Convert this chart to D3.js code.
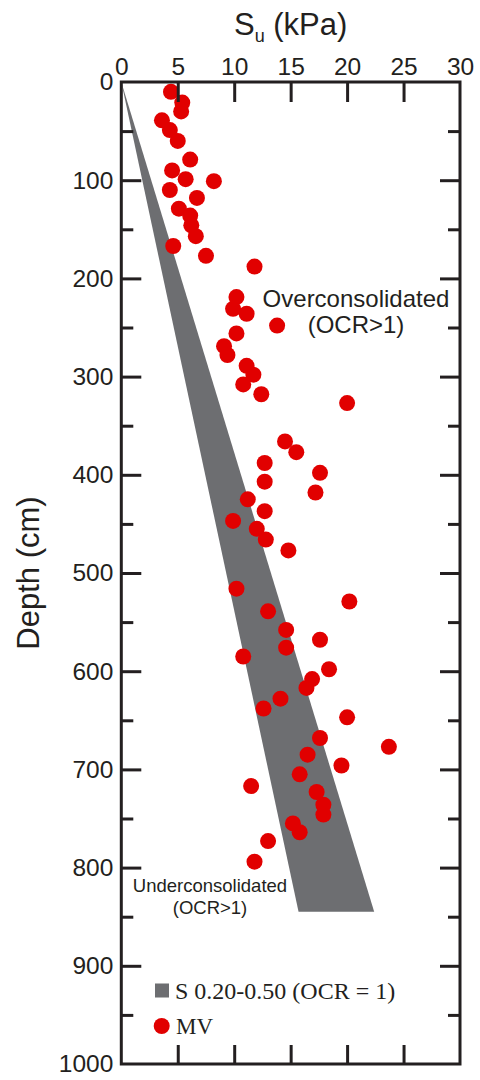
<!DOCTYPE html>
<html>
<head>
<meta charset="utf-8">
<script src="https://cdn.jsdelivr.net/npm/d3@7"></script>
<style>
  html, body { margin: 0; padding: 0; background: #fff; }
  svg { display: block; }
  text { font-family: "Liberation Sans", Arial, sans-serif; fill: #231f20; }
</style>
</head>
<body>
<svg id="chart" width="480" height="1080"></svg>
<script>
// Undrained shear strength (kPa) of MV samples versus depth (cm)
const mvStrength = [
  4.4, 5.4, 5.3, 3.6, 4.3, 5.0, 6.1, 4.5, 5.7, 8.2,
  4.3, 6.7, 5.1, 6.1, 6.2, 6.6, 4.6, 7.5, 11.8, 10.2,
  9.9, 11.1, 13.8, 10.2, 9.1, 9.4, 11.1, 11.7, 10.8, 12.4,
  20.0, 14.5, 15.5, 12.7, 17.6, 12.7, 17.2, 11.2, 12.7, 9.9,
  12.0, 12.8, 14.8, 10.2, 20.2, 13.0, 14.6, 17.6, 14.6, 10.8,
  18.4, 16.9, 16.4, 14.1, 12.6, 20.0, 17.6, 23.7, 16.5, 19.5,
  15.8, 11.5, 17.3, 17.9, 17.9, 15.2, 15.8, 13.0, 11.8
];
const mvDepth = [
  10, 21, 30, 39, 49, 60, 79, 90, 99, 101,
  110, 118, 129, 136, 146, 157, 167, 177, 188, 219,
  231, 236, 248, 256, 269, 278, 289, 298, 308, 318,
  327, 366, 377, 388, 398, 407, 418, 425, 437, 447,
  455, 466, 477, 516, 529, 539, 558, 568, 576, 585,
  598, 608, 617, 628, 638, 647, 668, 677, 685, 696,
  705, 717, 723, 736, 746, 755, 764, 773, 794
];

// Normally consolidated envelope (Su/σ'v = 0.20–0.50)
const bandDepth = [0, 845];
const bandLow = [0, 15.7];
const bandHigh = [0, 22.4];

// Axis ticks
const xTicks = [0, 5, 10, 15, 20, 25, 30];
const yTicks = [0, 100, 200, 300, 400, 500, 600, 700, 800, 900, 1000];
const yMinorTicks = [50, 150, 250, 350, 450, 550, 650, 750, 850, 950];

const ink = "#231f20";
const bandColor = "#6d6e71";
const dotColor = "#e10000";

const svg = d3.select("#chart");
const x = d3.scaleLinear().domain([0, 30]).range([121.3, 460]);
const y = d3.scaleLinear().domain([0, 1000]).range([82, 1064]);

// envelope band
const band = bandDepth.map((d, i) => ({ d, lo: bandLow[i], hi: bandHigh[i] }));
svg.append("path")
  .datum(band)
  .attr("fill", bandColor)
  .attr("d", d3.area()
    .y(p => y(p.d))
    .x0(p => x(p.lo))
    .x1(p => x(p.hi)));

// MV points
const pts = mvStrength.map((s, i) => ({ s, d: mvDepth[i] }));
svg.append("g").selectAll("circle")
  .data(pts)
  .join("circle")
  .attr("cx", p => x(p.s))
  .attr("cy", p => y(p.d))
  .attr("r", 8)
  .attr("fill", dotColor);

// axes with inward ticks
function styleAxis(g) {
  g.select(".domain").remove();
  g.selectAll(".tick line").attr("stroke", ink).attr("stroke-width", 3);
  g.selectAll(".tick text").attr("fill", ink).style("font-size", "24.5px")
    .style("font-family", '"Liberation Sans", Arial, sans-serif');
}

const plain = d3.format("d");

svg.append("g")
  .attr("transform", `translate(0,${y(0)})`)
  .call(d3.axisTop(x).tickValues(xTicks).tickSize(-20).tickPadding(7).tickFormat(plain))
  .call(styleAxis)
  .call(g => g.selectAll(".tick").filter(v => v === 0 || v === 30).select("line").remove());

svg.append("g")
  .attr("transform", `translate(0,${y(1000)})`)
  .call(d3.axisBottom(x).tickValues(xTicks.slice(1, -1)).tickSize(-19).tickFormat(""))
  .call(styleAxis);

svg.append("g")
  .attr("transform", `translate(${x(0)},0)`)
  .call(d3.axisLeft(y).tickValues(yTicks).tickSize(-20).tickPadding(8).tickFormat(plain))
  .call(styleAxis)
  .call(g => g.selectAll(".tick").filter(v => v === 0 || v === 1000).select("line").remove());

svg.append("g")
  .attr("transform", `translate(${x(0)},0)`)
  .call(d3.axisLeft(y).tickValues(yMinorTicks).tickSize(-12).tickFormat(""))
  .call(styleAxis);

svg.append("g")
  .attr("transform", `translate(${x(30)},0)`)
  .call(d3.axisRight(y).tickValues(yTicks.slice(1, -1)).tickSize(-20).tickFormat(""))
  .call(styleAxis);

svg.append("g")
  .attr("transform", `translate(${x(30)},0)`)
  .call(d3.axisRight(y).tickValues(yMinorTicks).tickSize(-12).tickFormat(""))
  .call(styleAxis);

// frame
svg.append("rect")
  .attr("x", x(0)).attr("y", y(0))
  .attr("width", x(30) - x(0)).attr("height", y(1000) - y(0))
  .attr("fill", "none").attr("stroke", ink).attr("stroke-width", 3);

// axis titles
const title = svg.append("text")
  .attr("x", (x(0) + x(30)) / 2).attr("y", 35)
  .attr("text-anchor", "middle")
  .style("font-size", "31px");
title.append("tspan").text("S");
title.append("tspan").attr("dy", 6.5).style("font-size", "18px").text("u");
title.append("tspan").attr("dy", -6.5).text(" (kPa)");

svg.append("text")
  .attr("transform", `translate(39,${(y(0) + y(1000)) / 2})rotate(-90)`)
  .attr("text-anchor", "middle")
  .style("font-size", "31px")
  .text("Depth (cm)");

// region annotations
const over = svg.append("text").attr("text-anchor", "middle").style("font-size", "24px");
over.append("tspan").attr("x", 356).attr("y", 306.5).text("Overconsolidated");
over.append("tspan").attr("x", 356).attr("y", 333).text("(OCR>1)");

const under = svg.append("text").attr("text-anchor", "middle").style("font-size", "18.5px");
under.append("tspan").attr("x", 210).attr("y", 891.5).text("Underconsolidated");
under.append("tspan").attr("x", 210).attr("y", 914).text("(OCR>1)");

// legend
const legend = svg.append("g");
legend.append("rect")
  .attr("x", 155).attr("y", 983.5).attr("width", 14).attr("height", 14)
  .attr("fill", bandColor);
legend.append("text")
  .attr("x", 175).attr("y", 999)
  .style("font-family", '"Liberation Serif", "Times New Roman", serif')
  .style("font-size", "24px")
  .text("S 0.20-0.50 (OCR = 1)");
legend.append("circle")
  .attr("cx", 161.7).attr("cy", 1026).attr("r", 8)
  .attr("fill", dotColor);
legend.append("text")
  .attr("x", 176).attr("y", 1033.5)
  .style("font-family", '"Liberation Serif", "Times New Roman", serif')
  .style("font-size", "23px")
  .text("MV");
</script>
</body>
</html>
